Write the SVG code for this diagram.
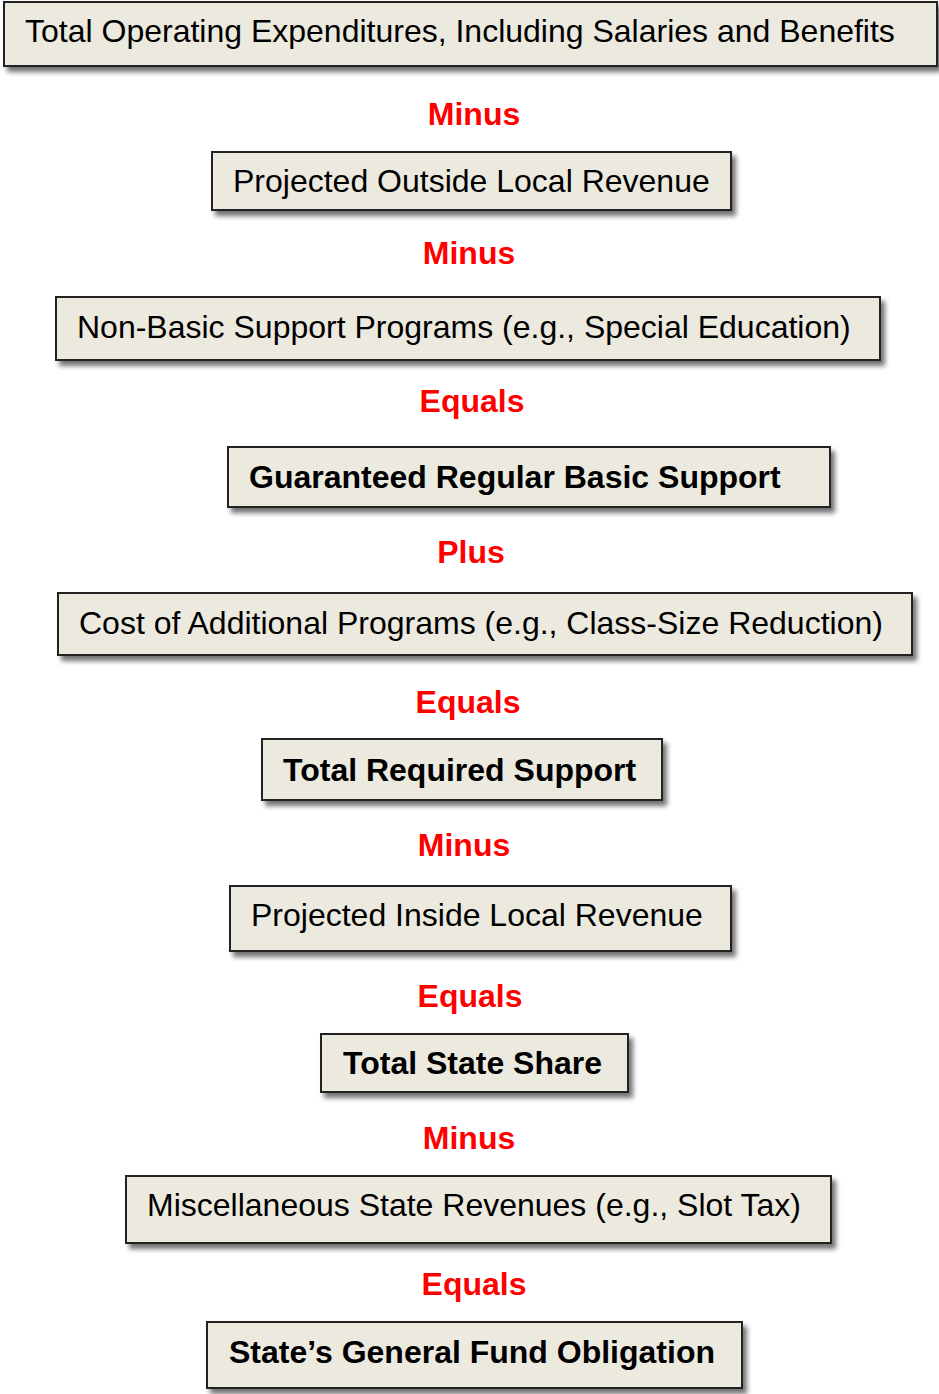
<svg xmlns="http://www.w3.org/2000/svg" width="939" height="1394" viewBox="0 0 939 1394">
  <defs>
    <filter id="shadow" x="-5%" y="-20%" width="115%" height="160%">
      <feDropShadow dx="4" dy="5" stdDeviation="2.5" flood-color="#000" flood-opacity="0.55"/>
    </filter>
  </defs>
  <style>
    .box { fill: #ECE9DF; stroke: #222; stroke-width: 2; filter: url(#shadow); }
    .t { font-family: "Liberation Sans", Arial, sans-serif; font-size: 32px; fill: #000; }
    .b { font-weight: bold; }
    .op { font-family: "Liberation Sans", Arial, sans-serif; font-size: 32px; font-weight: bold; fill: #FF0000; text-anchor: middle; }
  </style>
  <rect width="939" height="1394" fill="#fff"/>

  <!-- operators between steps -->
  <g id="connectors">
    <text class="op" x="474" y="125">Minus</text>
    <text class="op" x="469" y="264">Minus</text>
    <text class="op" x="472" y="412">Equals</text>
    <text class="op" x="471" y="563">Plus</text>
    <text class="op" x="468" y="713">Equals</text>
    <text class="op" x="464" y="856">Minus</text>
    <text class="op" x="470" y="1007">Equals</text>
    <text class="op" x="469" y="1149">Minus</text>
    <text class="op" x="474" y="1295">Equals</text>
  </g>

  <g id="n1">
    <rect class="box" x="4" y="2" width="933" height="64"/>
    <text class="t" x="25" y="42">Total Operating Expenditures, Including Salaries and Benefits</text>
  </g>
  <g id="n2">
    <rect class="box" x="212" y="152" width="519" height="58"/>
    <text class="t" x="233" y="192">Projected Outside Local Revenue</text>
  </g>
  <g id="n3">
    <rect class="box" x="56" y="297" width="824" height="63"/>
    <text class="t" x="77" y="338">Non-Basic Support Programs (e.g., Special Education)</text>
  </g>
  <g id="n4">
    <rect class="box" x="228" y="447" width="602" height="60"/>
    <text class="t b" x="249" y="488">Guaranteed Regular Basic Support</text>
  </g>
  <g id="n5">
    <rect class="box" x="58" y="593" width="854" height="62"/>
    <text class="t" x="79" y="634">Cost of Additional Programs (e.g., Class-Size Reduction)</text>
  </g>
  <g id="n6">
    <rect class="box" x="262" y="739" width="400" height="61"/>
    <text class="t b" x="283" y="781">Total Required Support</text>
  </g>
  <g id="n7">
    <rect class="box" x="230" y="886" width="501" height="65"/>
    <text class="t" x="251" y="926">Projected Inside Local Revenue</text>
  </g>
  <g id="n8">
    <rect class="box" x="321" y="1034" width="307" height="58"/>
    <text class="t b" x="343" y="1074">Total State Share</text>
  </g>
  <g id="n9">
    <rect class="box" x="126" y="1176" width="705" height="67"/>
    <text class="t" x="147" y="1216">Miscellaneous State Revenues (e.g., Slot Tax)</text>
  </g>
  <g id="n10">
    <rect class="box" x="207" y="1322" width="535" height="66"/>
    <text class="t b" x="229" y="1363">State’s General Fund Obligation</text>
  </g>
</svg>
